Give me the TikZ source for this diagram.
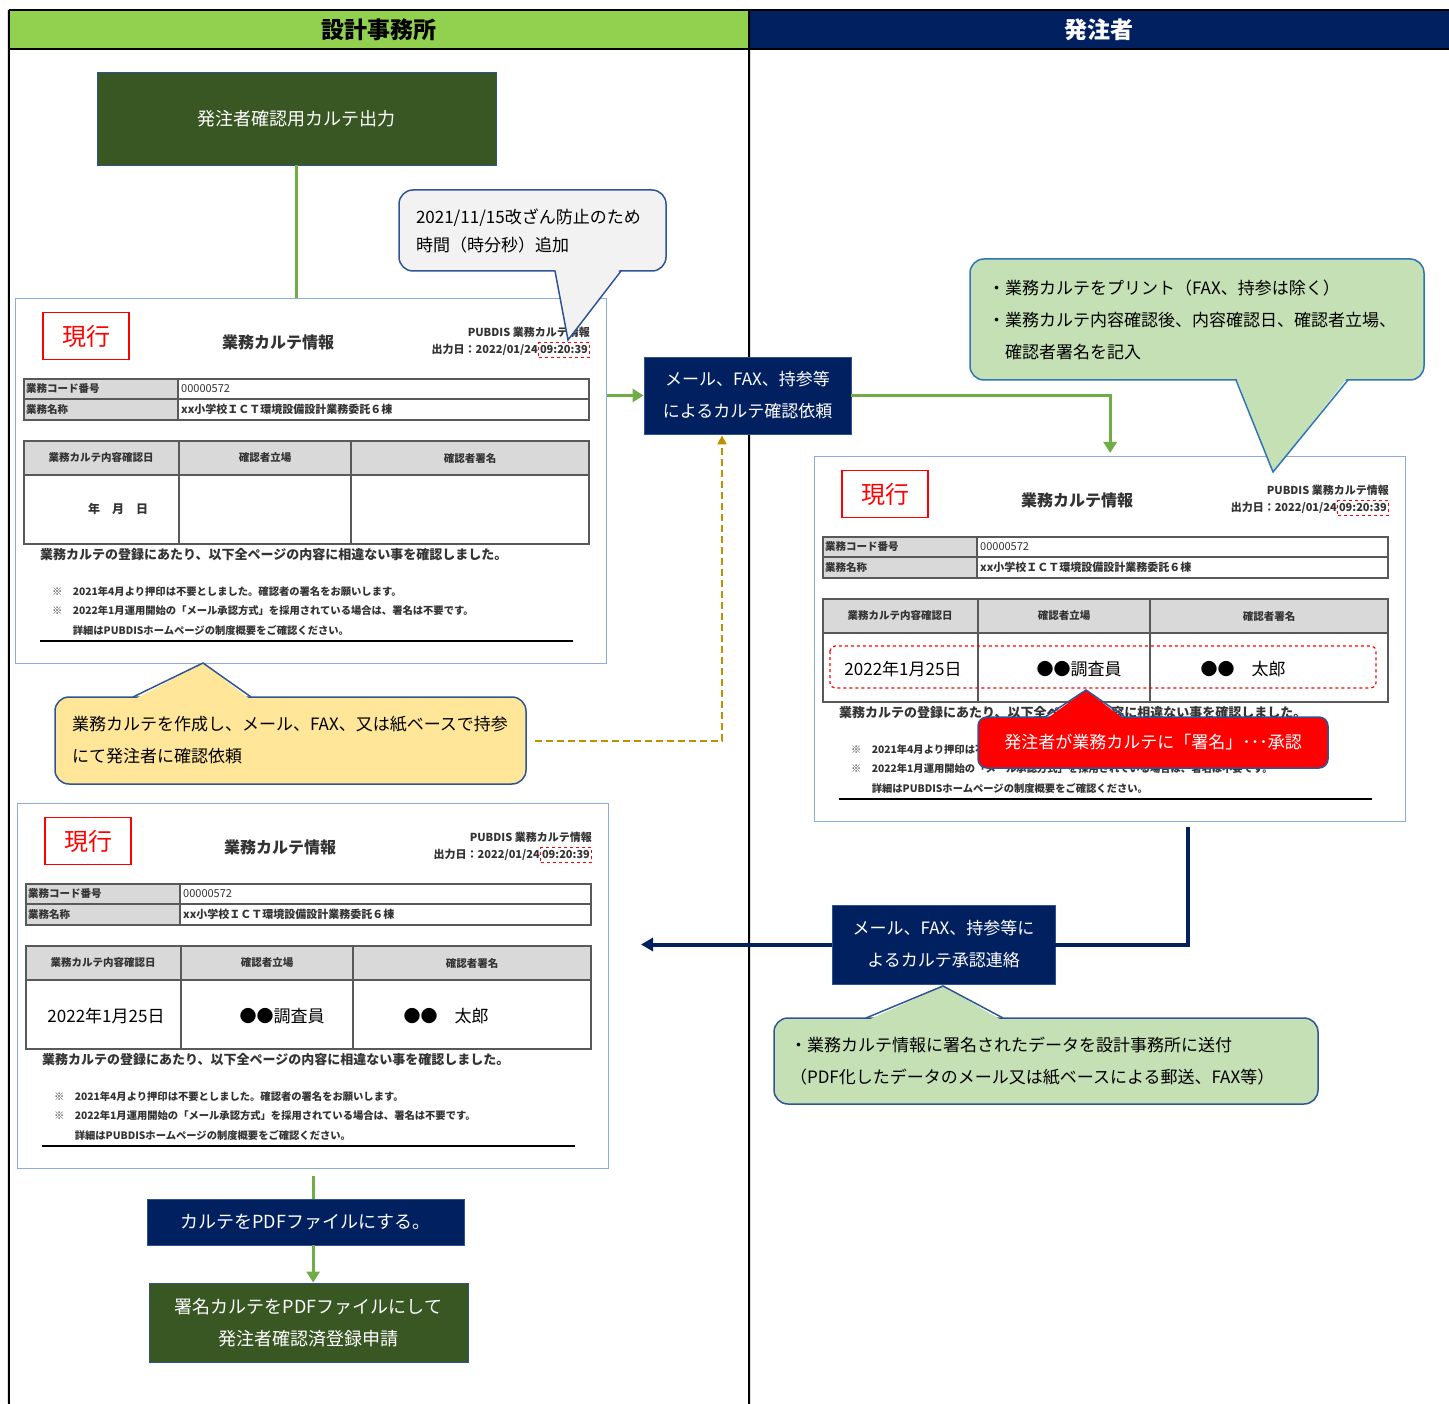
\documentclass[tikz,border=0pt]{standalone}
\usepackage{fontspec}
\setmainfont{Noto Sans CJK JP}
\usepackage{tikz}
\usetikzlibrary{arrows.meta,calc,positioning}

\definecolor{hdrgreen}{HTML}{92D050}
\definecolor{navy}{HTML}{002060}
\definecolor{forest}{HTML}{385723}
\definecolor{boxedge}{HTML}{2F528F}
\definecolor{flowgreen}{HTML}{70AD47}
\definecolor{flowgold}{HTML}{BF9000}
\definecolor{callgray}{HTML}{F2F2F2}
\definecolor{callgreen}{HTML}{C5E0B4}
\definecolor{callyellow}{HTML}{FFE699}
\definecolor{calledge}{HTML}{2F5597}
\definecolor{calledgeb}{HTML}{2E75B6}
\definecolor{kedge}{HTML}{8FAADC}
\definecolor{tgray}{HTML}{D9D9D9}
\definecolor{tline}{HTML}{595959}

\newcommand{\fsz}[2]{\fontsize{#1}{#2}\selectfont}

\tikzset{
  hdr/.style={minimum height=39pt, inner sep=0pt, font=\bfseries\fsz{23}{26}},
  greenbox/.style={draw=boxedge, line width=0.8pt, fill=forest, text=white, inner sep=0pt, align=center, font=\fsz{18}{32}},
  navybox/.style={draw=boxedge, line width=0.8pt, fill=navy, text=white, inner sep=0pt, align=center, font=\fsz{17}{32}},
  callbox/.style={draw=calledge, line width=1.5pt, rounded corners=14pt, inner ysep=0pt, align=left, font=\fsz{17}{32}},
  karte/.style={draw=kedge, line width=1.3pt, fill=white, inner sep=0pt},
  genko/.style={draw=red, line width=1.3pt, text=red, minimum width=86pt, minimum height=47pt, inner sep=0pt, font=\fsz{24}{26}},
  kt/.style={inner sep=0pt, text=black!80, font=\bfseries\fsz{10.5}{12}},
  sig/.style={inner sep=0pt, text=black, font=\fsz{17}{20}},
  tbl/.style={draw=tline, line width=1.5pt},
  flow/.style={draw=flowgreen, line width=3pt},
  flowtip/.style={-{Triangle[length=11pt,width=13pt]}},
}

\newcommand{\karte}[4]{%
\begin{scope}[shift={(#2,#3)}]
\node (#1) at (0,0) [karte, anchor=north west, minimum width=591pt, minimum height=365pt] {};
\node (#1gen) at (71,38) [genko] {現行};
\node (#1ttl) at (263,44) [kt, font=\bfseries\fsz{16}{18}] {業務カルテ情報};
\node (#1pub) at (575,34) [kt, anchor=east, font=\bfseries\fsz{11}{12}] {PUBDIS 業務カルテ情報};
\node (#1day) at (523,52) [kt, anchor=east, font=\bfseries\fsz{11}{12}] {出力日：2022/01/24};
\node (#1time) at (523,52) [kt, anchor=west, font=\bfseries\fsz{11}{12}, draw=red, dashed, line width=1pt, inner xsep=1.5pt, inner ysep=3pt] {09:20:39};
\fill[tgray] (9,81) rectangle (163,122);
\fill[tgray] (9,143) rectangle (574,177);
\draw[tbl] (9,81) rectangle (574,122) (9,101) -- (574,101) (163,81) -- (163,122);
\draw[tbl] (9,143) rectangle (574,246) (9,177) -- (574,177) (164,143) -- (164,246) (336,143) -- (336,246);
\node (#1code) at (11,91) [kt, anchor=west] {業務コード番号};
\node (#1num) at (166,91) [kt, anchor=west, font=\fsz{11}{12}] {00000572};
\node (#1nm) at (11,111) [kt, anchor=west] {業務名称};
\node (#1job) at (166,111) [kt, anchor=west, font=\bfseries\fsz{11}{12}] {xx小学校ＩＣＴ環境設備設計業務委託６棟};
\node (#1h1) at (86,160) [kt] {業務カルテ内容確認日};
\node (#1h2) at (250,160) [kt] {確認者立場};
\node (#1h3) at (455,160) [kt] {確認者署名};
\ifnum#4=0
\node (#1ymd) at (103,211) [kt, font=\bfseries\fsz{12}{14}] {年　月　日};
\else
\node (#1ymd) at (89,213) [sig] {2022年1月25日};
\node (#1pos) at (265,213) [sig] {●●調査員};
\node (#1sgn) at (429,213) [sig] {●●　太郎};
\fi
\ifnum#4=1
\draw[red, dashed, line width=1.2pt, rounded corners=5pt] (16,190) rectangle (562,232);
\fi
\node (#1ok) at (25,257) [kt, anchor=west, font=\bfseries\fsz{13}{15}] {業務カルテの登録にあたり、以下全ページの内容に相違ない事を確認しました。};
\node (#1n1) at (37,294) [kt, anchor=west, font=\bfseries\fsz{10.3}{12}] {※　2021年4月より押印は不要としました。確認者の署名をお願いします。};
\node (#1n2) at (37,313) [kt, anchor=west, font=\bfseries\fsz{10.3}{12}] {※　2022年1月運用開始の「メール承認方式」を採用されている場合は、署名は不要です。};
\node (#1n3) at (37,332) [kt, anchor=west, font=\bfseries\fsz{10.3}{12}] {　　詳細はPUBDISホームページの制度概要をご確認ください。};
\draw[line width=2.5pt] (25,343) -- (558,343);
\end{scope}}

\begin{document}
\begin{tikzpicture}[x=1pt, y=-1pt]
\useasboundingbox (0,0) rectangle (1449,1404);

\node (hL) at (379,29.5) [hdr, fill=hdrgreen, minimum width=740pt] {設計事務所};
\node (hR) at (1099,29.5) [hdr, fill=navy, text=white, minimum width=700pt] {発注者};
\draw[line width=2.5pt] (hL.north west) -- (hR.north east);
\draw[line width=2.5pt] (hL.south west) -- (hR.south east);
\draw[line width=2pt] (hL.north west) -- (9,1404);
\draw[line width=2pt] (hL.north east) -- (749,1404);

\node (outA) at (296.5,118.5) [greenbox, minimum width=399pt, minimum height=93pt] {発注者確認用カルテ出力};

\karte{k1}{15}{298}{0}
\karte{k2}{814}{456}{1}
\karte{k3}{17}{803}{2}

\node (callG) at (532.5,230.5) [callbox, fill=callgray, inner xsep=17pt, text width=233pt, minimum height=81pt, font=\fsz{17}{28}] {2021/11/15改ざん防止のため\\時間（時分秒）追加};
\node (req) at (747.5,395.5) [navybox, minimum width=207pt, minimum height=77pt] {メール、FAX、持参等\\によるカルテ確認依頼};
\node (callR) at (1197,319.5) [callbox, draw=calledgeb, fill=callgreen, inner xsep=18pt, text width=418pt, minimum height=121pt] {・業務カルテをプリント（FAX、持参は除く）\\・業務カルテ内容確認後、内容確認日、確認者立場、\\　確認者署名を記入};
\node (callRed) at (1153,742.5) [callbox, fill=red, text=white, align=center, minimum width=350pt, minimum height=51pt, rounded corners=9pt] {発注者が業務カルテに「署名」･･･承認};
\node (cY) at (290.5,740.5) [callbox, fill=callyellow, inner xsep=17pt, text width=437pt, minimum height=87pt] {業務カルテを作成し、メール、FAX、又は紙ベースで持参\\にて発注者に確認依頼};
\node (appr) at (943.5,944.5) [navybox, minimum width=223pt, minimum height=79pt] {メール、FAX、持参等に\\よるカルテ承認連絡};
\node (callG2) at (1046,1061) [callbox, fill=callgreen, inner xsep=16pt, text width=512pt, minimum height=86pt] {・業務カルテ情報に署名されたデータを設計事務所に送付\\（PDF化したデータのメール又は紙ベースによる郵送、FAX等）};
\node (pdf) at (305.5,1222) [navybox, font=\fsz{18}{32}, minimum width=317pt, minimum height=46pt] {カルテをPDFファイルにする。};
\node (sub) at (308.5,1322.5) [greenbox, minimum width=319pt, minimum height=79pt] {署名カルテをPDFファイルにして\\発注者確認済登録申請};

\fill[callgray] (555,268) -- (568,340) -- (621,268) -- cycle;
\draw[calledge, line width=1.5pt] (555,271) -- (568,340) -- (621,271);
\fill[callgreen] (1236,377) -- (1273,472) -- (1348,377) -- cycle;
\draw[calledgeb, line width=1.5pt] (1236,380) -- (1273,472) -- (1348,380);
\fill[callyellow] (133,700) -- (203,663) -- (251,700) -- cycle;
\draw[calledge, line width=1.5pt] (133,697) -- (203,663) -- (251,697);
\fill[red] (1045,720) -- (1086,690) -- (1125,720) -- cycle;
\draw[calledge, line width=1.5pt] (1045,717) -- (1086,690) -- (1125,717);
\fill[callgreen] (866,1021) -- (943,986) -- (1003,1021) -- cycle;
\draw[calledge, line width=1.5pt] (866,1018) -- (943,986) -- (1003,1018);

\draw[flow] (outA.south) -- (outA.south |- k1.north);
\draw[flow, flowtip] (k1.east |- req.west) -- (req.west);
\draw[flow, flowtip, shorten >=3pt] (req.east) -| (k2.north);
\draw[flowgold, line width=2pt, dash pattern=on 7pt off 4pt, shorten >=1pt, -{Triangle[length=9pt,width=9pt]}] ([xshift=8pt]cY.east) -| ([xshift=-25.5pt]req.south);

\coordinate (aprtop) at (1188,827);
\coordinate (aprend) at (641,944.5);
\draw[navy, line width=4pt] (aprtop) |- (appr.east);
\draw[navy, line width=4pt, -{Triangle[length=12pt,width=13pt]}] (appr.west) -- (aprend);

\draw[flow] ([yshift=-7pt]k3.south) -- (k3.south |- pdf.north);
\draw[flow, flowtip] (pdf.south -| k3.south) -- (sub.north -| k3.south);

\end{tikzpicture}
\end{document}
